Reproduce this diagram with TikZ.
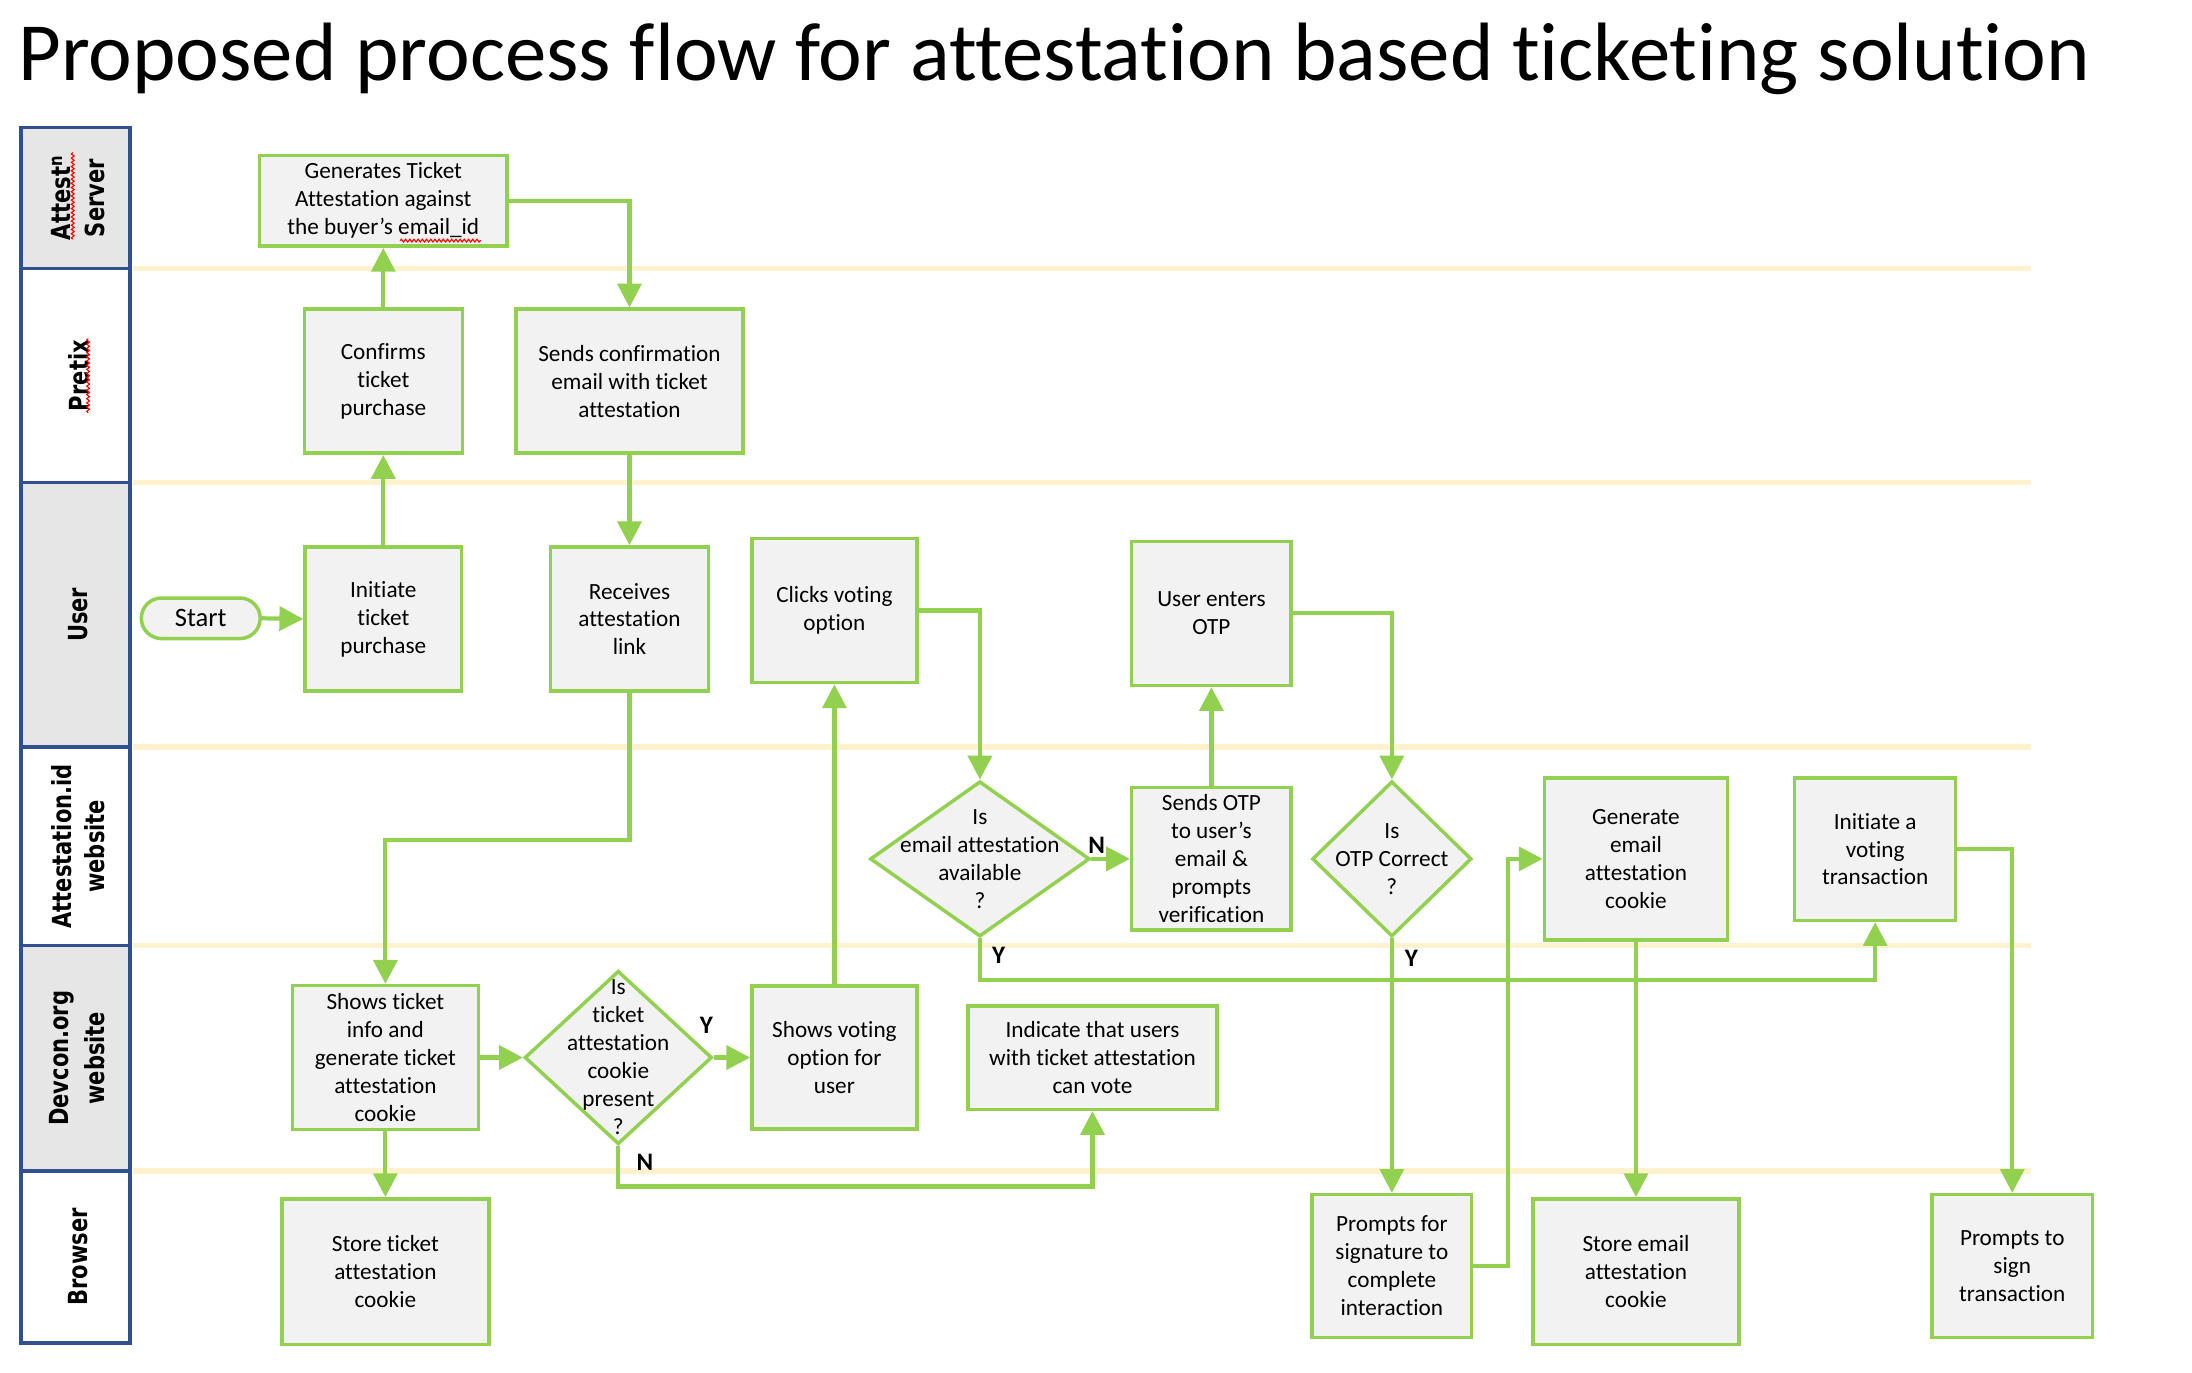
\documentclass[tikz,border=0pt]{standalone}
\usepackage{fontspec}
\setmainfont{Carlito}[Ligatures={TeX,NoCommon}]
\newfontfamily\lanefont{DejaVu Sans}[FakeStretch=0.8]
\usetikzlibrary{arrows.meta,shapes.geometric,decorations.pathmorphing}
\definecolor{grn}{HTML}{92D050}
\definecolor{boxfill}{HTML}{F2F2F2}
\definecolor{navy}{HTML}{2F528F}
\definecolor{lanegray}{HTML}{E7E6E6}
\definecolor{sepcol}{HTML}{FFF2CC}
\begin{document}
\begin{tikzpicture}[x=1pt,y=-1pt,
  box/.style={draw=grn, line width=2.5pt, fill=boxfill, align=center, inner sep=0pt, font=\fontsize{16.6}{20}\selectfont},
  dia/.style={draw=grn, line width=2.5pt, fill=boxfill, shape=diamond, inner sep=0pt},
  txt/.style={align=center, inner sep=0pt, font=\fontsize{16.6}{20}\selectfont},
  conn/.style={draw=grn, line width=3pt, -{Triangle[length=17pt,width=17pt]}},
  lanebox/.style={draw=navy, line width=2.5pt},
  sepline/.style={draw=sepcol, line width=4pt},
  lanelbl/.style={rotate=90, inner sep=0pt, font=\lanefont\bfseries\fontsize{18.8}{25}\selectfont},
  yn/.style={inner sep=0pt, font=\bfseries\fontsize{18}{20}\selectfont},
  squig/.style={draw=red, line width=0.8pt, decorate, decoration={snake, amplitude=1pt, segment length=3pt}}
]
\useasboundingbox (0,0) rectangle (1567,981);

% title
\node[anchor=base west, inner sep=0pt, font=\fontsize{59.2}{70}\selectfont] (title) at (13,57.5) {Proposed process flow for attestation based ticketing solution};

% separators
\foreach \yy in {192,345,534,676,837} \draw[sepline] (95,\yy) -- (1452,\yy);

% lane column
\path[lanebox, fill=lanegray] (15,91) rectangle (93,192);
\path[lanebox, fill=white] (15,192) rectangle (93,345);
\path[lanebox, fill=lanegray] (15,345) rectangle (93,534);
\path[lanebox, fill=white] (15,534) rectangle (93,676);
\path[lanebox, fill=lanegray] (15,676) rectangle (93,837);
\path[lanebox, fill=white] (15,837) rectangle (93,960);

\node[lanelbl] (l1a) at (44,141.5) {Attest\textsuperscript{n}};
\node[lanelbl] (l1b) at (68,141.5) {Server};
\node[lanelbl] (l2) at (56,268.5) {Pretix};
\node[lanelbl] (l3) at (56,439.5) {User};
\node[lanelbl] (l4a) at (44,605) {Attestation.id};
\node[lanelbl] (l4b) at (68,605) {website};
\node[lanelbl] (l5a) at (44,756.5) {Devcon.org};
\node[lanelbl] (l5b) at (68,756.5) {website};
\node[lanelbl] (l6) at (56,898.5) {Browser};

% nodes
\node[box, minimum width=177pt, minimum height=65pt] (gen) at (274,143.5) {Generates Ticket\\Attestation against\\the buyer’s email\_id};
\node[box, minimum width=113pt, minimum height=103pt] (conf) at (274,272.5) {Confirms\\ticket\\purchase};
\node[box, minimum width=162pt, minimum height=103pt] (sendconf) at (450,272.5) {Sends confirmation\\email with ticket\\attestation};
\node[box, rounded corners=14.5pt, minimum width=85pt, minimum height=29pt, font=\fontsize{19}{22}\selectfont] (start) at (143.5,442) {Start};
\node[box, minimum width=112pt, minimum height=103pt] (init) at (274,442.5) {Initiate\\ticket\\purchase};
\node[box, minimum width=113pt, minimum height=103pt] (recv) at (450,442.5) {Receives\\attestation\\link};
\node[box, minimum width=118pt, minimum height=103pt] (clicks) at (596.5,436.5) {Clicks voting\\option};
\node[box, minimum width=114pt, minimum height=103pt] (otp) at (866,438.5) {User enters\\OTP};
\node[dia, minimum width=157pt, minimum height=111pt] (demail) at (700.5,614) {};
\node[txt] (demailt) at (demail) {Is\\email attestation\\available\\?};
\node[box, minimum width=114pt, minimum height=102pt] (sendotp) at (866,614) {Sends OTP\\to user’s\\email \&\\prompts\\verification};
\node[dia, minimum width=114pt, minimum height=111pt] (dotp) at (995,614) {};
\node[txt] (dotpt) at (dotp) {Is\\OTP Correct\\?};
\node[box, minimum width=131pt, minimum height=116pt] (genemail) at (1169.5,614) {Generate\\email\\attestation\\cookie};
\node[box, minimum width=115pt, minimum height=102pt] (initvote) at (1340.5,607) {Initiate a\\voting\\transaction};
\node[box, minimum width=133pt, minimum height=103pt] (shows) at (275.5,756) {Shows ticket\\info and\\generate ticket\\attestation\\cookie};
\node[dia, minimum width=134pt, minimum height=124pt] (dcookie) at (442,756) {};
\node[txt] (dcookiet) at (dcookie) {Is\\ticket\\attestation\\cookie\\present\\?};
\node[box, minimum width=118pt, minimum height=102pt] (showvote) at (596.5,756) {Shows voting\\option for\\user};
\node[box, minimum width=178pt, minimum height=74pt] (indicate) at (781,756) {Indicate that users\\with ticket attestation\\can vote};
\node[box, minimum width=148pt, minimum height=104pt] (store) at (275.5,909) {Store ticket\\attestation\\cookie};
\node[box, minimum width=114pt, minimum height=102pt] (prompts) at (995,905) {Prompts for\\signature to\\complete\\interaction};
\node[box, minimum width=147pt, minimum height=104pt] (storeemail) at (1169.5,909) {Store email\\attestation\\cookie};
\node[box, minimum width=115pt, minimum height=102pt] (promptsign) at (1438.5,905) {Prompts to\\sign\\transaction};

% connectors
\draw[conn] (start.east) -- (init.west);
\draw[conn] (init.north) -- (conf.south);
\draw[conn] (conf.north) -- (gen.south);
\draw[conn] (gen.east) -| (sendconf.north);
\draw[conn] (sendconf.south) -- (recv.north);
\draw[conn] (recv.south) -- ++(0,105) -| (shows.north);
\draw[conn] (shows.east) -- (dcookie.west);
\draw[conn] (shows.south) -- (store.north);
\draw[conn] (dcookie.east) -- (showvote.west);
\draw[conn] (dcookie.south) -- ++(0,29) -| (indicate.south);
\draw[conn] (showvote.north) -- (clicks.south);
\draw[conn] (clicks.east) -| (demail.north);
\draw[conn] (demail.east) -- (sendotp.west);
\draw[conn] (sendotp.north) -- (otp.south);
\draw[conn] (otp.east) -| (dotp.north);
\draw[conn] (demail.south) -- ++(0,30) -| (initvote.south);
\draw[conn] (dotp.south) -- (prompts.north);
\draw[conn] (prompts.east) -- ++(25,0) |- (genemail.west);
\draw[conn] (genemail.south) -- (storeemail.north);
\draw[conn] (initvote.east) -| (promptsign.north);

% Y/N labels
\node[yn] (ly1) at (505,733) {Y};
\node[yn] (ln1) at (461,831) {N};
\node[yn] (ln2) at (784,604) {N};
\node[yn] (ly2) at (714,683) {Y};
\node[yn] (ly3) at (1009,685) {Y};

% spell-check squiggles
\draw[squig] (52,171) -- (52,109);
\draw[squig] (63,295) -- (63,242);
\draw[squig] (286,172) -- (344,172);
\end{tikzpicture}
\end{document}
